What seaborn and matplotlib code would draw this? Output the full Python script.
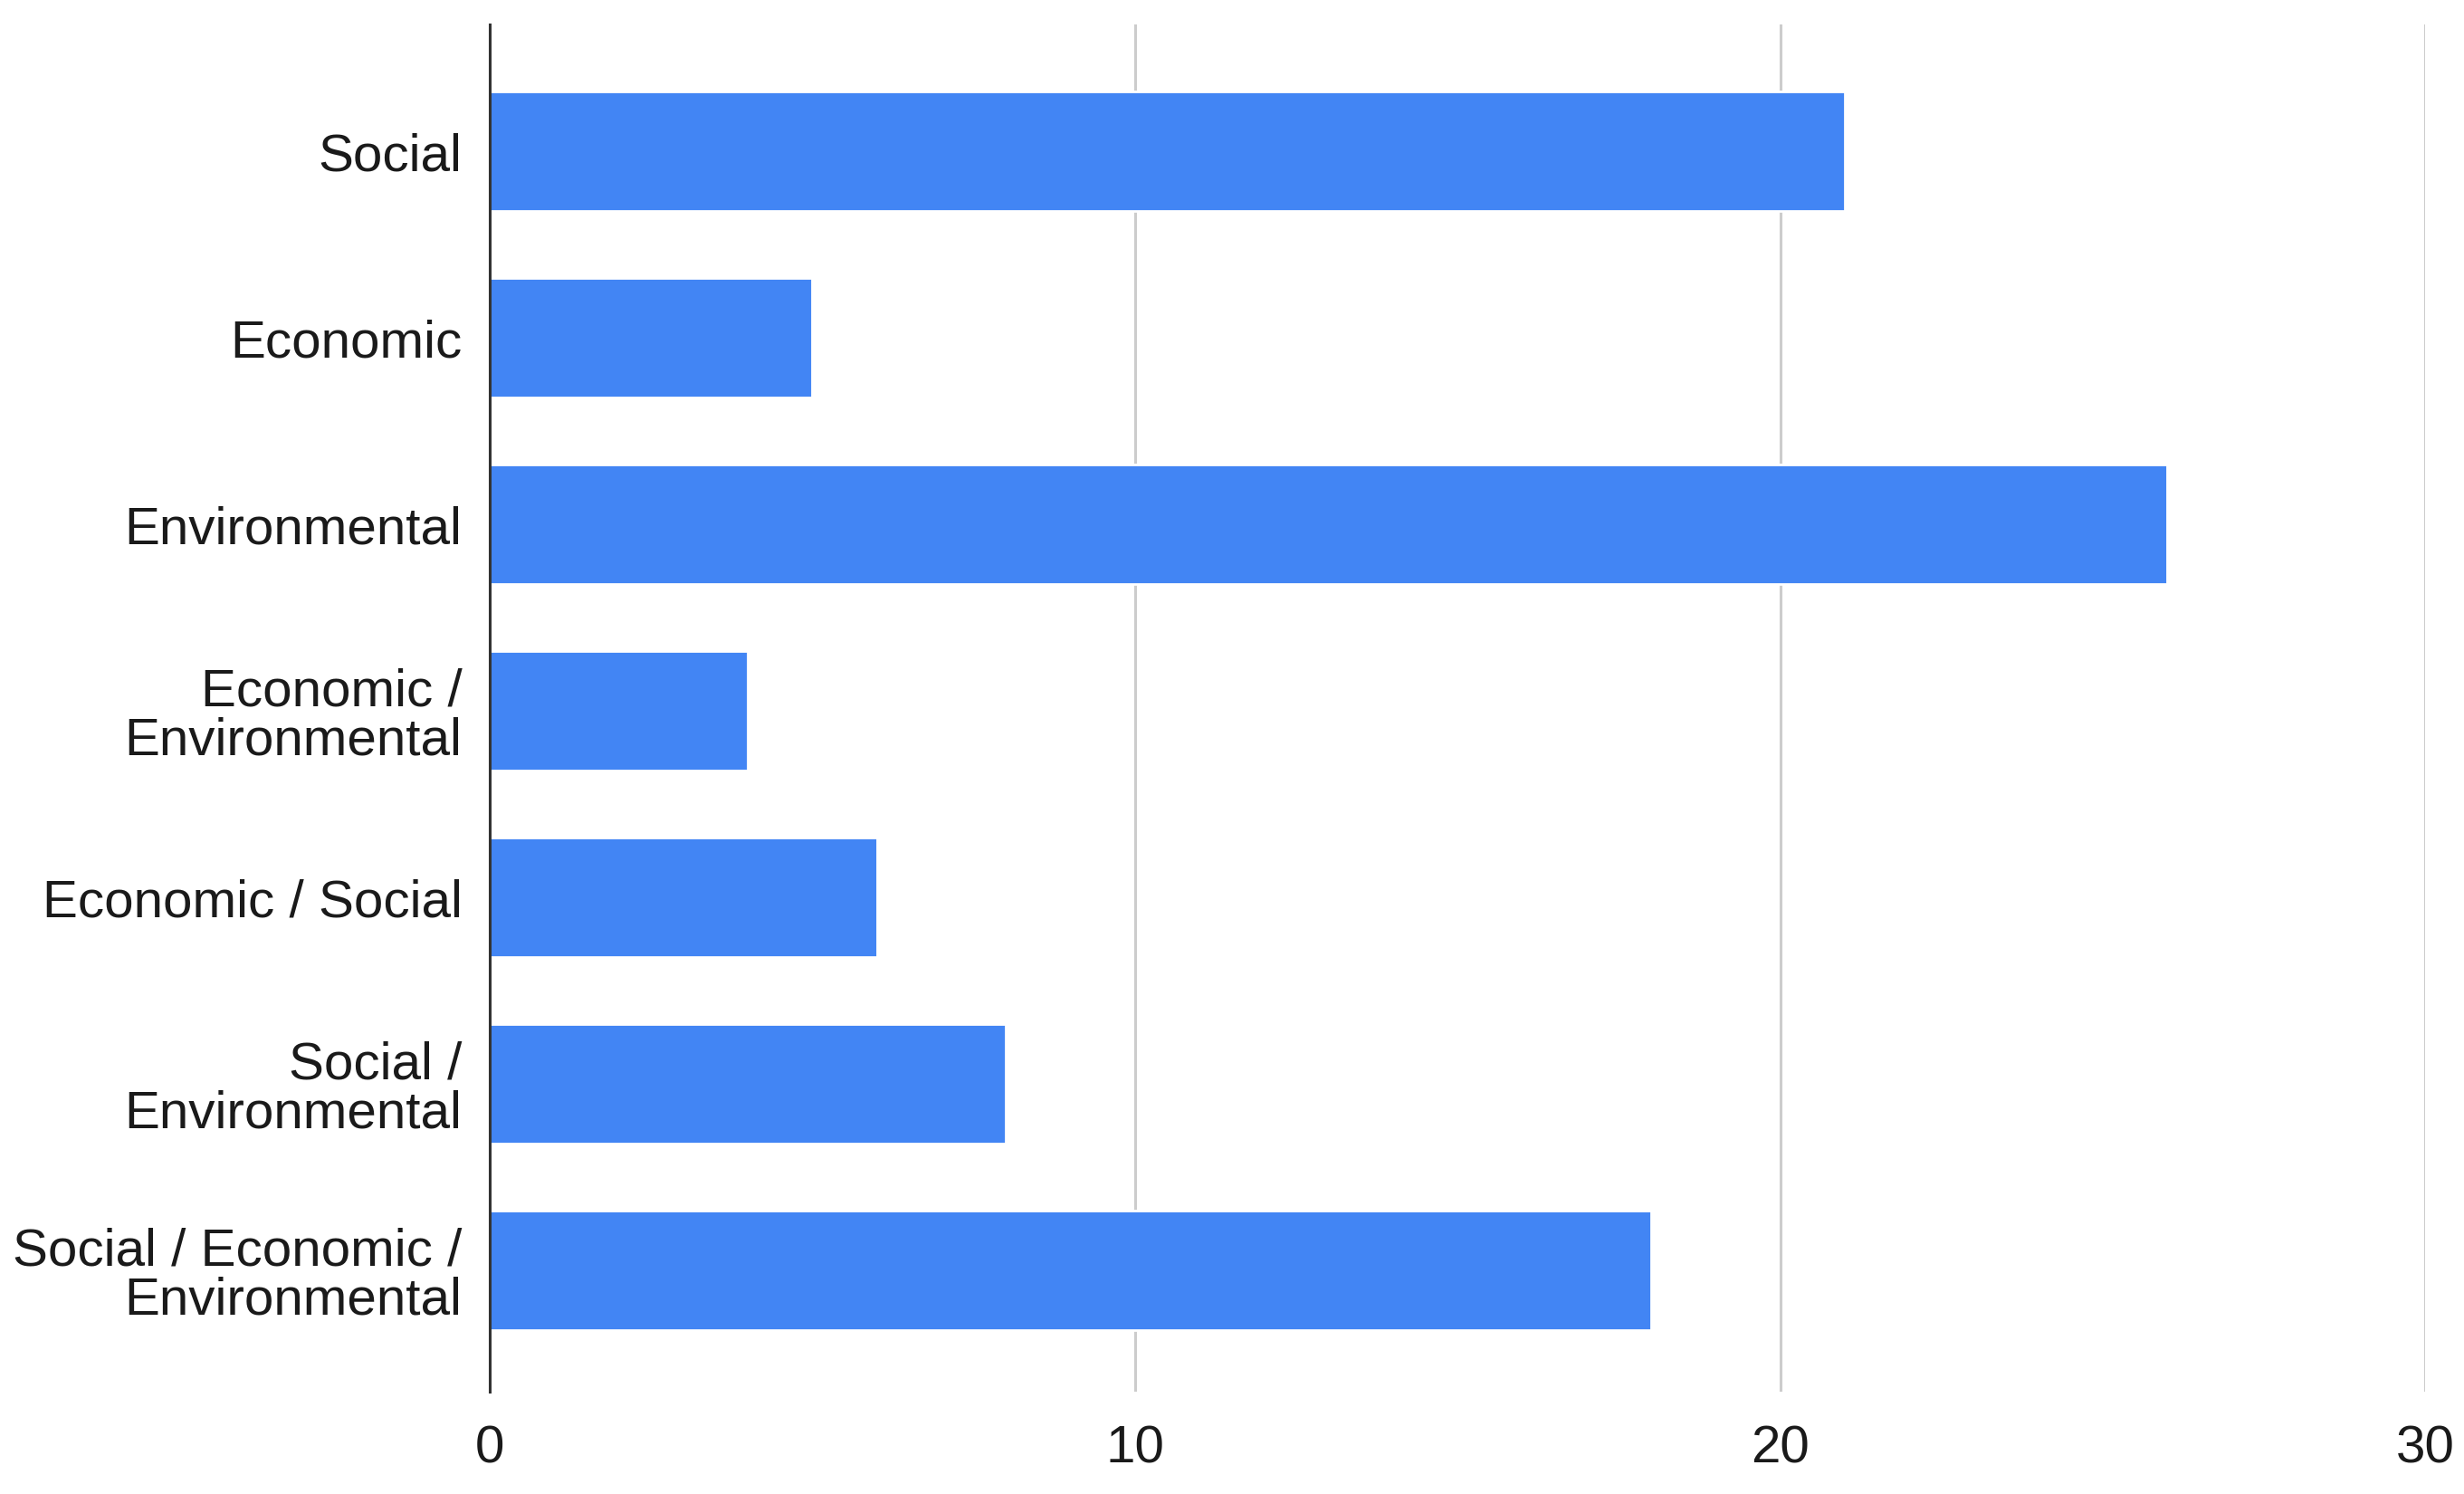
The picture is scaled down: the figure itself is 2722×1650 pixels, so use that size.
import matplotlib
matplotlib.use("Agg")
import matplotlib.pyplot as plt
import seaborn as sns
import pandas as pd

categories = [
    "Social",
    "Economic",
    "Environmental",
    "Economic /\nEnvironmental",
    "Economic / Social",
    "Social /\nEnvironmental",
    "Social / Economic /\nEnvironmental",
]
values = [21, 5, 26, 4, 6, 8, 18]
x_ticks = [0, 10, 20, 30]

sns.set_theme(style="white")
plt.rcParams["font.family"] = ["Liberation Sans", "DejaVu Sans"]

df = pd.DataFrame({"category": categories, "value": values})

fig = plt.figure(figsize=(13.61, 8.25), dpi=200)
ax = fig.add_axes([0.1988, 0.0685, 0.7855, 0.9151])

ax.grid(axis="x", color="#cccccc", linewidth=1.1)
ax.set_axisbelow(True)

sns.barplot(data=df, x="value", y="category", color="#4285F4",
            saturation=1, width=0.64, ax=ax, orient="h")

ax.set_xlim(0, 30)
ax.set_ylim(6.65, -0.68)
ax.set_xticks(x_ticks)
ax.set_xlabel("")
ax.set_ylabel("")

for s in ["top", "right", "bottom"]:
    ax.spines[s].set_visible(False)
ax.spines["left"].set_color("#333333")
ax.spines["left"].set_linewidth(1.1)
ax.spines["left"].set_zorder(5)

ax.tick_params(axis="both", length=0, labelsize=21, colors="#1a1a1a")
ax.tick_params(axis="x", pad=13)
ax.tick_params(axis="y", pad=11)
for lab in ax.get_yticklabels():
    lab.set_linespacing(1.0)

fig.savefig("out.png", dpi=200, facecolor="white")
